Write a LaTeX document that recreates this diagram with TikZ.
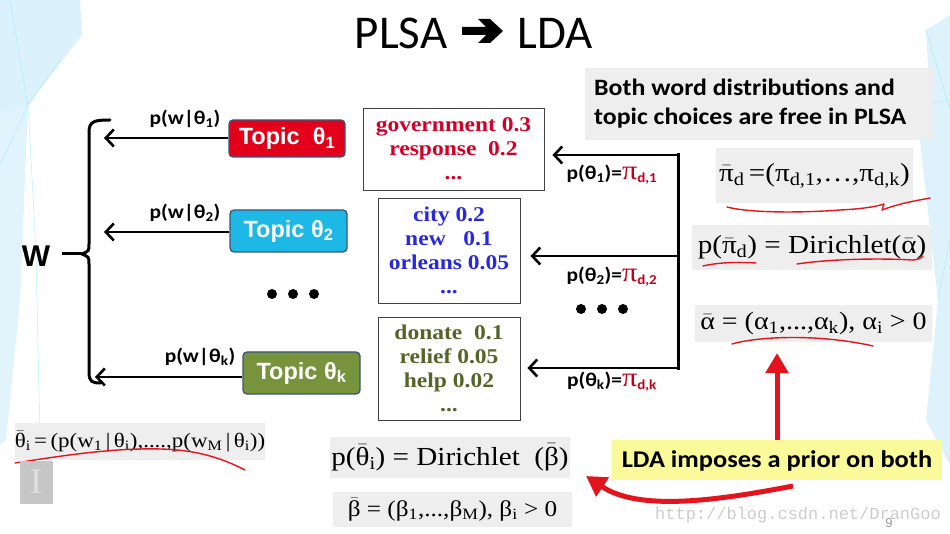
\documentclass[tikz,border=0pt]{standalone}
\usepackage{fontspec}
\setmainfont{Liberation Serif}
\newfontfamily\serifw{Liberation Serif}[FakeStretch=1.12]
\newfontfamily\calib{Carlito}
\newfontfamily\calibw{Carlito}[FakeStretch=1.1]
\newfontfamily\arialf{Liberation Sans}
\newfontfamily\monof{Liberation Mono}
\usetikzlibrary{arrows.meta,calc}
\definecolor{tborder}{RGB}{60,85,120}
\definecolor{tred}{RGB}{226,0,26}
\definecolor{tcyan}{RGB}{30,184,230}
\definecolor{tgreen}{RGB}{119,147,60}
\definecolor{wred}{RGB}{210,0,40}
\definecolor{wblue}{RGB}{40,40,225}
\definecolor{wgreen}{RGB}{85,100,40}
\definecolor{pired}{RGB}{190,0,30}
\definecolor{penred}{RGB}{228,20,30}
\definecolor{fboxgray}{RGB}{238,238,238}
\definecolor{yel}{RGB}{250,250,155}
\definecolor{bgblue}{RGB}{190,230,248}
\newcommand\sbs[1]{\textsubscript{#1}}
\newcommand\ovb[1]{\ensuremath{\bar{\mbox{#1}}}}
\newcommand\fs[2]{\fontsize{#1}{#2}\selectfont}
\newcommand\rpi[1]{{\color{pired}{\serifw\mdseries\fs{27}{27}π}\sbs{#1}}}
\tikzset{
  topic/.style={draw=tborder, line width=1.3pt, rounded corners=4pt, text=white,
    font=\arialf\bfseries\fs{23.5}{25}, inner sep=0pt},
  wbox/.style={draw=black!75, line width=0.9pt, fill=white, align=center,
    font=\serifw\bfseries\fs{21}{24}, inner sep=0pt},
  fbox/.style={fill=fboxgray, inner sep=0pt, font=\serifw},
  lab/.style={font=\calibw\bfseries\fs{19.5}{22}, inner sep=0pt},
  conn/.style={line width=2.6pt, -{Straight Barb[length=8pt,width=17pt]}},
  redarr/.style={draw=penred, line width=5pt, -{Triangle[length=20pt,width=22pt]}},
  pen/.style={draw=penred, line width=1.4pt, line cap=round, line join=round},
  dot/.style={fill=black, circle, inner sep=0pt, minimum size=10pt},
}
\begin{document}
\begin{tikzpicture}[x=1pt,y=-1pt]
\useasboundingbox (0,0) rectangle (950,534);
\fill[white] (0,0) rectangle (950,534);
% background facets
\fill[bgblue, opacity=0.55] (0,0) -- (80,0) -- (82,35) -- (28,105) -- (0,112) -- cycle;
\fill[bgblue, opacity=0.45] (0,112) -- (28,105) -- (20,300) -- (6,440) -- (0,445) -- cycle;
\draw[bgblue!80!cyan, line width=0.5pt, opacity=0.7] (28,105) -- (36,250) -- (40,440) (0,165) -- (28,105) -- (60,60) (10,0) -- (28,105);
\fill[bgblue, opacity=0.5] (950,15) -- (926,30) -- (930,100) -- (916,106) -- (938,300) -- (926,420) -- (950,465) -- cycle;
\draw[bgblue!80!cyan, line width=0.5pt, opacity=0.7] (926,30) -- (950,110) (916,106) -- (950,100) (938,300) -- (950,240);

% title
\node[font=\calib\fs{47}{50}, inner sep=0pt] (plsa) at (401,33) {PLSA};
\node[font=\calib\fs{47}{50}, inner sep=0pt] (lda) at (555,33) {LDA};
\fill (462,27) -- (486,27) -- (478,19) -- (490,19) -- (503,31) -- (490,43) -- (478,43) -- (486,35) -- (462,35) -- cycle;

% W and brace
\node[font=\arialf\bfseries\fs{30}{32}, inner sep=0pt] (W) at (36,256) {W};
\coordinate (bmid) at (82,254);
\draw[line width=3pt] (62,254) -- (bmid);
\draw[line width=3pt, line cap=round] (110,120) .. controls (95,120) and (89,121) .. (89,132) -- (89,244) .. controls (89,251) .. (bmid) .. controls (89,257) .. (89,264) -- (89,372) .. controls (89,382) and (92,383) .. (101,383);

% topic boxes
\node[topic, fill=tred, minimum width=116pt, minimum height=37pt] (t1) at (287,138.5) {Topic~~θ\sbs{1}};
\node[topic, fill=tcyan, minimum width=117pt, minimum height=42pt] (t2) at (288.5,231) {Topic θ\sbs{2}};
\node[topic, fill=tgreen, minimum width=117pt, minimum height=42pt] (tk) at (301.5,373) {Topic θ\sbs{k}};

\coordinate (b1) at (104,138);
\coordinate (b2) at (104,232);
\coordinate (bk) at (95,377);
\draw[conn] (t1.west |- b1) -- (b1);
\draw[conn] (t2.west |- b2) -- (b2);
\draw[conn] (tk.west |- bk) -- (bk);
\node[lab] (l1) at (185,119) {p(w|θ\sbs{1})};
\node[lab] (l2) at (185,213) {p(w|θ\sbs{2})};
\node[lab] (lk) at (200,357) {p(w|θ\sbs{k})};

\node[dot] (d1) at (272,294) {};
\node[dot] (d2) at (293,294) {};
\node[dot] (d3) at (314,294) {};

% word boxes
\node[wbox, text=wred, minimum width=181pt, minimum height=82pt] (w1) at (453.5,149) {government 0.3\\response~~0.2\\...};
\node[wbox, text=wblue, minimum width=142pt, minimum height=105pt] (w2) at (449,250.5) {city 0.2\\new~~~0.1\\orleans 0.05\\...};
\node[wbox, text=wgreen, minimum width=142pt, minimum height=103pt] (w3) at (449,368.5) {donate~~0.1\\relief 0.05\\help 0.02\\...};

% right connector
\coordinate (r1) at (678,155);
\coordinate (r2) at (678,256);
\coordinate (rk) at (678,368);
\draw[line width=3pt, line cap=rect] (r1) -- (rk);
\draw[conn, shorten >=8pt] (r1) -- (w1.east |- r1);
\draw[conn, shorten >=10pt] (r2) -- (w2.east |- r2);
\draw[conn, shorten >=7pt] (rk) -- (w3.east |- rk);
\node[lab] (p1) at (612,175) {p(θ\sbs{1})=\rpi{d,1}};
\node[lab] (p2) at (612,277) {p(θ\sbs{2})=\rpi{d,2}};
\node[lab] (pk) at (612,382) {p(θ\sbs{k})=\rpi{d,k}};
\node[dot] (e1) at (581,309) {};
\node[dot] (e2) at (602,309) {};
\node[dot] (e3) at (623,309) {};

% PLSA note
\node[fill=fboxgray, minimum width=348pt, minimum height=72pt, inner sep=0pt] (note) at (759,104) {};
\node[font=\calibw\bfseries\fs{23.5}{29}, align=left, anchor=west, inner sep=0pt] (notetext) at (594,104) {Both word distributions and\\topic choices are free in PLSA};

% formulas right
\node[fbox, minimum width=197pt, minimum height=55pt] (f1) at (814.5,175.5) {\fs{26}{30}\ovb{π}\sbs{d}\,=(π\sbs{d,1},…,π\sbs{d,k})};
\node[fbox, minimum width=240pt, minimum height=45pt] (f2) at (812,247.5) {\fs{26}{30}p(\ovb{π}\sbs{d}) = Dirichlet(\ovb{α})};
\node[fbox, minimum width=237pt, minimum height=37pt] (f3) at (813.5,323.5) {\fs{25}{28}\ovb{α} = (α\sbs{1},...,α\sbs{k}), α\sbs{i} > 0};

% formulas bottom
\node[fbox, minimum width=250pt, minimum height=37pt] (f4) at (140,441.5) {\fs{20.5}{24}\ovb{θ}\sbs{i}\,=\,(p(w\sbs{1}\,|\,θ\sbs{i}),....,p(w\sbs{M}\,|\,θ\sbs{i}))};
\node[fbox, minimum width=240pt, minimum height=41pt] (f5) at (450,457.5) {\fs{26}{30}p(\ovb{θ}\sbs{i}) = Dirichlet~ (\ovb{β})};
\node[fbox, minimum width=239pt, minimum height=35pt] (f6) at (452.5,509.5) {\fs{22.5}{26}\ovb{β} = (β\sbs{1},...,β\sbs{M}), β\sbs{i} > 0};

% red pen underlines
\draw[pen] (727,207) .. controls (750,213) and (800,213) .. (840,210) .. controls (860,209) and (875,207) .. (884,204) -- (882,210) .. controls (900,203) and (920,200) .. (930,198);
\draw[pen] (703,266) .. controls (720,262) and (740,262) .. (756,263);
\draw[pen] (797,264) .. controls (830,259) and (880,258) .. (912,260) .. controls (918,260) and (921,258) .. (923,256);
\draw[pen] (732,344) .. controls (760,336) and (820,334) .. (873,346);
\draw[pen] (15,463) .. controls (60,456) and (100,450) .. (140,449) .. controls (180,448) and (210,452) .. (245,470);

% LDA box and red arrows
\node[fill=yel, minimum width=330pt, minimum height=40pt, inner sep=0pt] (ldabox) at (777,460) {};
\node[font=\calibw\bfseries\fs{24}{28}, inner sep=0pt] (ldatext) at (777,461) {LDA imposes a prior on both};
\coordinate (up) at (777,353);
\draw[redarr] (ldabox.north -| up) -- (up);
\coordinate (ct) at (586,476);
\draw[redarr] (793,486) .. controls (720,500) and (640,512) .. (ct);

% slide decorations
\node[fill=gray!45, minimum width=33pt, minimum height=43pt, inner sep=0pt] (logo) at (36,482) {\fs{36}{36}\color{gray!25}I};
\node[font=\monof\fs{17}{20}, text=gray!40, inner sep=0pt] (wm) at (798,515) {http://blog.csdn.net/DranGoo};
\node[font=\arialf\fs{13}{14}, text=gray!80, inner sep=0pt] (pg) at (889,523) {9};
\end{tikzpicture}
\end{document}
